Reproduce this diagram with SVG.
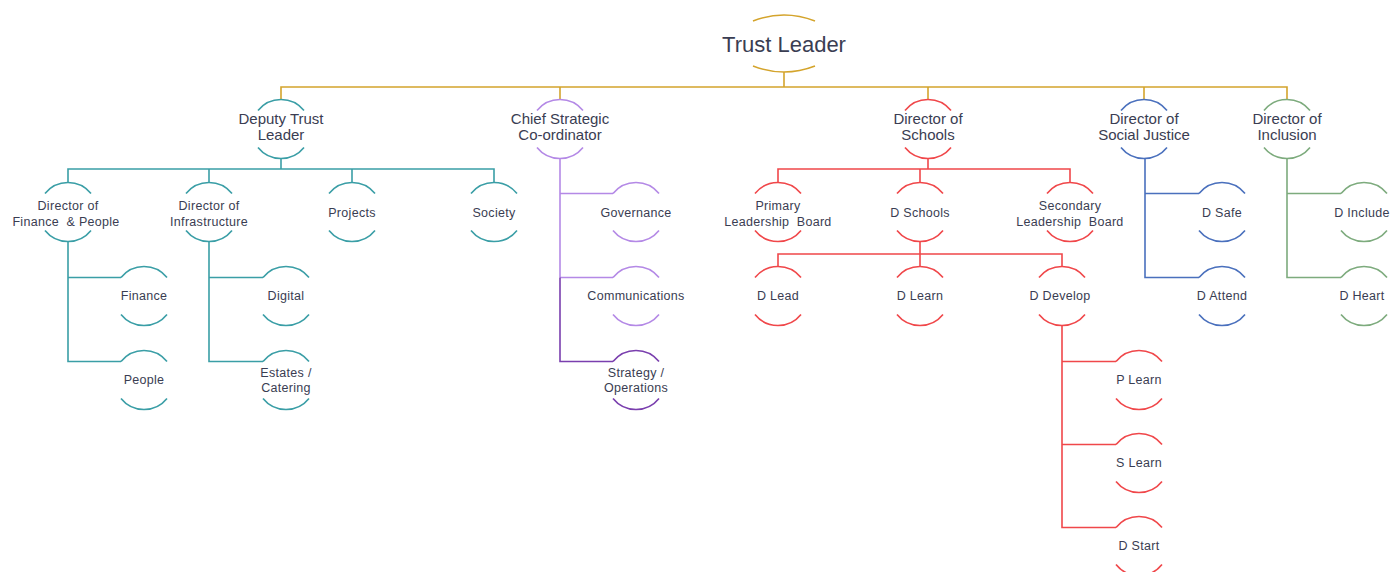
<svg xmlns="http://www.w3.org/2000/svg" width="1391" height="572" viewBox="0 0 1391 572">
<style>
text{font-family:"Liberation Sans","Noto Sans",sans-serif;fill:#3a3d52;text-anchor:middle}
.t0{font-size:22px}
.t1{font-size:15px}
.t2{font-size:12.5px;letter-spacing:0.3px}
path,line,polyline{fill:none;stroke-width:1.6}
.gold{stroke:#d4a42c}
.teal{stroke:#3a9ea6}
.pur{stroke:#b489e6}
.dpur{stroke:#7a3fae}
.red{stroke:#f0474a}
.blue{stroke:#4a70bd}
.green{stroke:#7dab7d}
</style>
<defs>
<path id="arc" d="M-23 -18.5 A29.5 29.5 0 0 1 23 -18.5 M-23 18.5 A29.5 29.5 0 0 0 23 18.5"/>
</defs>
<g id="connectors">
<polyline class="gold" points="784,72 784,87"/>
<polyline class="gold" points="281,100 281,87 1287,87 1287,100"/>
<polyline class="gold" points="560,87 560,100"/>
<polyline class="gold" points="928,87 928,100"/>
<polyline class="gold" points="1144,87 1144,100"/>
<polyline class="teal" points="281,158.5 281,169"/>
<polyline class="teal" points="68,182.5 68,169 494,169 494,182.5"/>
<polyline class="teal" points="209,169 209,182.5"/>
<polyline class="teal" points="352,169 352,182.5"/>
<polyline class="teal" points="68,241.5 68,361.5 121,361.5"/>
<polyline class="teal" points="68,277.5 121,277.5"/>
<polyline class="teal" points="209,241.5 209,361.5 263,361.5"/>
<polyline class="teal" points="209,277.5 263,277.5"/>
<polyline class="pur" points="560,158.5 560,277.5"/>
<polyline class="pur" points="560,193.5 613,193.5"/>
<polyline class="pur" points="560,277.5 613,277.5"/>
<polyline class="dpur" points="560,277.5 560,361.5 613,361.5"/>
<polyline class="red" points="928,158.5 928,169"/>
<polyline class="red" points="778,182.5 778,169 1070,169 1070,182.5"/>
<polyline class="red" points="920,169 920,182.5"/>
<polyline class="red" points="920,241.5 920,254"/>
<polyline class="red" points="778,266.5 778,254 1062,254 1062,266.5"/>
<polyline class="red" points="920,254 920,266.5"/>
<polyline class="red" points="1062,325.5 1062,527.5 1116,527.5"/>
<polyline class="red" points="1062,361.5 1116,361.5"/>
<polyline class="red" points="1062,444.5 1116,444.5"/>
<polyline class="blue" points="1145,158.5 1145,277.5 1199,277.5"/>
<polyline class="blue" points="1145,193.5 1199,193.5"/>
<polyline class="green" points="1287,158.5 1287,277.5 1341,277.5"/>
<polyline class="green" points="1287,193.5 1341,193.5"/>
</g>
<g id="trust-leader">
<path class="gold" d="M753 21 Q784 9 815 21 M753 66 Q784 78 815 66"/>
<text class="t0" x="784" y="52">Trust Leader</text>
</g>
<g id="deputy-trust-leader">
<use href="#arc" class="teal" x="281" y="129"/>
<text class="t1" x="281" y="124">Deputy Trust</text>
<text class="t1" x="281" y="140">Leader</text>
</g>
<g id="chief-strategic">
<use href="#arc" class="pur" x="560" y="129"/>
<text class="t1" x="560" y="124">Chief Strategic</text>
<text class="t1" x="560" y="140">Co-ordinator</text>
</g>
<g id="director-schools">
<use href="#arc" class="red" x="928" y="129"/>
<text class="t1" x="928" y="124">Director of</text>
<text class="t1" x="928" y="140">Schools</text>
</g>
<g id="director-social-justice">
<use href="#arc" class="blue" x="1144" y="129"/>
<text class="t1" x="1144" y="124">Director of</text>
<text class="t1" x="1144" y="140">Social Justice</text>
</g>
<g id="director-inclusion">
<use href="#arc" class="green" x="1287" y="129"/>
<text class="t1" x="1287" y="124">Director of</text>
<text class="t1" x="1287" y="140">Inclusion</text>
</g>
<g id="director-finance-people">
<use href="#arc" class="teal" x="68" y="212"/>
<text class="t2" x="68" y="209.5">Director of</text>
<text class="t2" x="66" y="225.5" xml:space="preserve">Finance  &amp; People</text>
</g>
<g id="director-infrastructure">
<use href="#arc" class="teal" x="209" y="212"/>
<text class="t2" x="209" y="209.5">Director of</text>
<text class="t2" x="209" y="225.5">Infrastructure</text>
</g>
<g id="projects">
<use href="#arc" class="teal" x="352" y="212"/>
<text class="t2" x="352" y="216.5">Projects</text>
</g>
<g id="society">
<use href="#arc" class="teal" x="494" y="212"/>
<text class="t2" x="494" y="216.5">Society</text>
</g>
<g id="finance">
<use href="#arc" class="teal" x="144" y="296"/>
<text class="t2" x="144" y="299.5">Finance</text>
</g>
<g id="people">
<use href="#arc" class="teal" x="144" y="380"/>
<text class="t2" x="144" y="383.5">People</text>
</g>
<g id="digital">
<use href="#arc" class="teal" x="286" y="296"/>
<text class="t2" x="286" y="299.5">Digital</text>
</g>
<g id="estates-catering">
<use href="#arc" class="teal" x="286" y="380"/>
<text class="t2" x="286" y="376.5">Estates /</text>
<text class="t2" x="286" y="391.5">Catering</text>
</g>
<g id="governance">
<use href="#arc" class="pur" x="636" y="212"/>
<text class="t2" x="636" y="216.5">Governance</text>
</g>
<g id="communications">
<use href="#arc" class="pur" x="636" y="296"/>
<text class="t2" x="636" y="299.5">Communications</text>
</g>
<g id="strategy-operations">
<use href="#arc" class="dpur" x="636" y="380"/>
<text class="t2" x="636" y="376.5">Strategy /</text>
<text class="t2" x="636" y="391.5">Operations</text>
</g>
<g id="primary-leadership-board">
<use href="#arc" class="red" x="778" y="212"/>
<text class="t2" x="778" y="209.5">Primary</text>
<text class="t2" x="778" y="225.5" xml:space="preserve">Leadership  Board</text>
</g>
<g id="d-schools">
<use href="#arc" class="red" x="920" y="212"/>
<text class="t2" x="920" y="216.5">D Schools</text>
</g>
<g id="secondary-leadership-board">
<use href="#arc" class="red" x="1070" y="212"/>
<text class="t2" x="1070" y="209.5">Secondary</text>
<text class="t2" x="1070" y="225.5" xml:space="preserve">Leadership  Board</text>
</g>
<g id="d-lead">
<use href="#arc" class="red" x="778" y="296"/>
<text class="t2" x="778" y="299.5">D Lead</text>
</g>
<g id="d-learn">
<use href="#arc" class="red" x="920" y="296"/>
<text class="t2" x="920" y="299.5">D Learn</text>
</g>
<g id="d-develop">
<use href="#arc" class="red" x="1062" y="296"/>
<text class="t2" x="1060" y="299.5">D Develop</text>
</g>
<g id="p-learn">
<use href="#arc" class="red" x="1139" y="380"/>
<text class="t2" x="1139" y="383.5">P Learn</text>
</g>
<g id="s-learn">
<use href="#arc" class="red" x="1139" y="463"/>
<text class="t2" x="1139" y="466.5">S Learn</text>
</g>
<g id="d-start">
<use href="#arc" class="red" x="1139" y="546"/>
<text class="t2" x="1139" y="549.5">D Start</text>
</g>
<g id="d-safe">
<use href="#arc" class="blue" x="1222" y="212"/>
<text class="t2" x="1222" y="216.5">D Safe</text>
</g>
<g id="d-attend">
<use href="#arc" class="blue" x="1222" y="296"/>
<text class="t2" x="1222" y="299.5">D Attend</text>
</g>
<g id="d-include">
<use href="#arc" class="green" x="1364" y="212"/>
<text class="t2" x="1362" y="216.5">D Include</text>
</g>
<g id="d-heart">
<use href="#arc" class="green" x="1364" y="296"/>
<text class="t2" x="1362" y="299.5">D Heart</text>
</g>
</svg>
